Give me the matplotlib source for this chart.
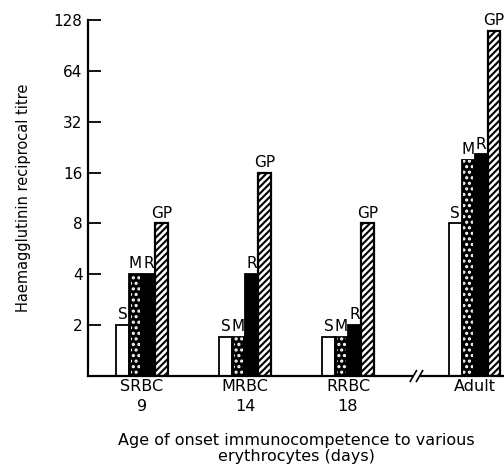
import numpy as np
import matplotlib
matplotlib.use("Agg")
import matplotlib.pyplot as plt

# titre values (log2 axis, baseline = 1)
groups = ["SRBC\n9", "MRBC\n14", "RRBC\n18", "Adult"]
group_pos = [0, 1, 2, 3.23]
series = ["S", "M", "R", "GP"]
S_vals = [2, 1.7, 1.7, 8]
M_vals = [4, 1.7, 1.7, 19]
R_vals = [4, 4, 2, 20.5]
GP_vals = [8, 16, 8, 110]
yticks = [2, 4, 8, 16, 32, 64, 128]

plt.rcParams["hatch.linewidth"] = 1.5

fig = plt.figure(figsize=(5.04, 4.65), dpi=100)
ax = fig.add_axes([0.1746, 0.1914, 0.8254, 0.7656])

x = np.array(group_pos)
width = 0.125
offsets = [-1.5, -0.5, 0.5, 1.5]
values = [S_vals, M_vals, R_vals, GP_vals]

for name, off, vals in zip(series, offsets, values):
    xs = x + off * width
    vals = np.array(vals, dtype=float)
    if name == "S":
        ax.bar(xs, vals - 1, width, bottom=1, color="white",
               edgecolor="black", linewidth=1.3)
    elif name == "M":
        ax.bar(xs, vals - 1, width, bottom=1, color="black",
               edgecolor="black", linewidth=1.3)
        ax.bar(xs, vals - 1, width * 0.75, bottom=1, fill=False,
               edgecolor="white", linewidth=0, hatch="...")
    elif name == "R":
        ax.bar(xs, vals - 1, width, bottom=1, color="black",
               edgecolor="black", linewidth=1.3)
    else:
        ax.bar(xs, vals - 1, width, bottom=1, color="white",
               edgecolor="black", linewidth=1.6, hatch="/////")
    for xi, v in zip(xs, vals):
        ax.text(xi, v * 1.04, name, ha="center", va="bottom", fontsize=11)

ax.set_yscale("log", base=2)
ax.set_ylim(1, 128)
ax.set_xlim(-0.524, 3.515)
ax.set_yticks(yticks)
ax.set_yticklabels([str(t) for t in yticks])
ax.yaxis.set_minor_locator(matplotlib.ticker.NullLocator())
ax.tick_params(axis="y", direction="in", length=9, width=1.3,
               labelsize=11, pad=4)
ax.set_xticks(x)
ax.set_xticklabels(groups, fontsize=11.5, linespacing=1.4)
ax.tick_params(axis="x", length=0, pad=2)

for side in ["top", "right", "bottom"]:
    ax.spines[side].set_visible(False)
ax.spines["left"].set_linewidth(1.6)

# broken baseline
ax.plot([-0.524, 2.62], [1, 1], color="black", lw=1.6, clip_on=False)
ax.plot([2.71, 3.515], [1, 1], color="black", lw=1.6, clip_on=False)
for bx in [2.635, 2.695]:
    ax.plot([bx - 0.03, bx + 0.03], [0.93, 1.075], color="black", lw=1.2,
            clip_on=False)

ax.set_ylabel("Haemagglutinin reciprocal titre", fontsize=10.5, labelpad=16)
ax.set_xlabel("Age of onset immunocompetence to various\nerythrocytes (days)",
              fontsize=11.5, linespacing=1.05)
ax.xaxis.set_label_coords(0.5, -0.16)

fig.savefig("out.png", dpi=100)
